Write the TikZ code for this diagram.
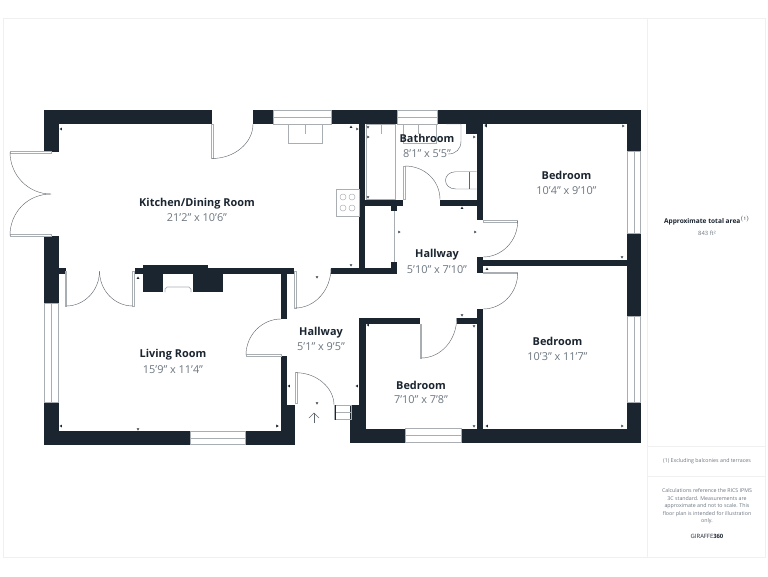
\documentclass[tikz,border=0pt]{standalone}
\usepackage{fontspec}
\setmainfont{Open Sans}
\definecolor{wallc}{HTML}{1A2530}
\definecolor{sizec}{HTML}{6C7680}
\definecolor{linec}{HTML}{A9AEB3}
\definecolor{framec}{HTML}{F0F0F0}
\tikzset{
  wall/.style={fill=wallc},
  leaf/.style={fill=white,draw=linec,line width=0.5pt},
  glass/.style={fill=white,draw=linec,line width=0.5pt},
  swing/.style={draw=wallc!70,line width=0.35pt},
  fixture/.style={draw=linec,line width=0.6pt},
  roomname/.style={font=\fontsize{9.3}{11}\selectfont\bfseries,text=wallc,inner sep=0pt,yshift=-0.85pt},
  roomsize/.style={font=\fontsize{9.3}{11}\selectfont,text=sizec,inner sep=0pt,yshift=-0.85pt},
  sidetext/.style={font=\fontsize{4.5}{6.4}\selectfont,text=sizec,inner sep=0pt,align=center},
}
\begin{document}
\begin{tikzpicture}[x=0.03cm,y=-0.03cm]
\useasboundingbox (0,0) rectangle (768,576);
\fill[white] (0,0) rectangle (768,576);

\draw[framec,line width=0.8pt] (3,18) -- (765,18) -- (765,557) -- (3,557) -- cycle;
\draw[framec,line width=0.8pt] (647,18) -- (647,557);
\draw[framec,line width=0.8pt] (647,446) -- (765,446);
\draw[framec,line width=0.8pt] (647,476) -- (765,476);

\fill[wall] (44,109.5) rectangle (212,124);
\fill[wall] (44,109.5) rectangle (58.5,152);
\fill[wall] (253,109.5) rectangle (273,124);
\fill[wall] (331,109.5) rectangle (397,124);
\fill[wall] (437,109.5) rectangle (641,124);
\fill[wall] (627,109.5) rectangle (641,151);
\fill[wall] (627,233) rectangle (641,316);
\fill[wall] (627,402) rectangle (641,443);
\fill[wall] (461,428.5) rectangle (641,443);
\fill[wall] (350,428.5) rectangle (405,443);
\fill[wall] (350,405) rectangle (365.5,443);
\fill[wall] (359,318) rectangle (365.5,405);
\fill[wall] (359,318) rectangle (420,324);
\fill[wall] (456.7,318) rectangle (483,324);
\fill[wall] (476.7,309) rectangle (483,430);
\fill[wall] (476.7,257) rectangle (483,273);
\fill[wall] (476.7,260) rectangle (627,266.3);
\fill[wall] (476.7,124) rectangle (483.3,220);
\fill[wall] (465.7,124) rectangle (477,134);
\fill[wall] (440,199.5) rectangle (477,206);
\fill[wall] (365,199.5) rectangle (402.7,206);
\fill[wall] (391,206) rectangle (397,211);
\fill[wall] (359,124) rectangle (365,270);
\fill[wall] (331,268) rectangle (397.3,274);
\fill[wall] (391,262) rectangle (397.3,274);
\fill[wall] (44,235.7) rectangle (58.5,303);
\fill[wall] (58,268.3) rectangle (66,274);
\fill[wall] (44,402) rectangle (58.5,445);
\fill[wall] (44,431) rectangle (190,445);
\fill[wall] (245,431) rectangle (295,445);
\fill[wall] (281,405) rectangle (295,445);
\fill[wall] (281,355.7) rectangle (287,405);
\fill[wall] (281,268.3) rectangle (287,319);
\fill[wall] (135,268.3) rectangle (293.5,274);
\fill[wall] (143.3,265) rectangle (208,292);
\fill[wall] (208,268.3) rectangle (222.7,292);
\fill[white] (163,274) rectangle (193,292);
\draw[fixture] (165,292) -- (165,289) -- (167,287) -- (189,287) -- (191,289) -- (191,292);

\draw[glass] (273,109.8) rectangle (331,124);
\draw[glass] (273,116.8) -- (331,116.8);
\draw[glass] (397,109.8) rectangle (437,124);
\draw[glass] (397,116.8) -- (437,116.8);
\draw[glass] (627,151) rectangle (640.7,233);
\draw[glass] (634,151) -- (634,233);
\draw[glass] (627,316) rectangle (640.7,402);
\draw[glass] (634,316) -- (634,402);
\draw[glass] (44.3,303) rectangle (58.5,402);
\draw[glass] (51.5,303) -- (51.5,402);
\draw[glass] (190,431) rectangle (245,444.7);
\draw[glass] (190,438) -- (245,438);
\draw[glass] (405,428.5) rectangle (461,442.7);
\draw[glass] (405,435.5) -- (461,435.5);

\draw[leaf] (211.5,124) rectangle (213.5,158.5);
\draw[swing] (212,158.5) .. controls (234.5,158.5) and (253,143) .. (253,124);
\draw[leaf] (10,151) rectangle (51,153);
\draw[leaf] (10,234.5) rectangle (51,236.5);
\draw[swing] (10,152) .. controls (10,175) and (28,194) .. (51,194);
\draw[swing] (10,235.5) .. controls (10,212) and (28,194) .. (51,194);
\draw[leaf] (65,271) rectangle (66.5,306);
\draw[swing] (66,306) .. controls (85,306) and (99.5,290) .. (99.5,271);
\draw[leaf] (132.5,271) rectangle (134,306);
\draw[swing] (133,306) .. controls (114,306) and (99.5,290) .. (99.5,271);
\draw[leaf] (246,354.5) rectangle (281,356);
\draw[swing] (246,355) .. controls (246,335) and (262,319) .. (281,319);
\draw[leaf] (294,271) rectangle (296,308);
\draw[swing] (295,308) .. controls (315,308) and (331,290) .. (331,268);
\draw[leaf] (295,372.7) rectangle (296.8,403.5);
\draw[swing] (296,372.7) .. controls (317,372.7) and (334,388) .. (334,405);
\draw[leaf] (420,324) rectangle (421.5,358);
\draw[swing] (421,358) .. controls (441,358) and (456.7,340) .. (456.7,318);
\draw[leaf] (483,272) rectangle (517.7,273.7);
\draw[swing] (517.7,273) .. controls (517.7,293) and (502,309) .. (483,309);
\draw[leaf] (483,220) rectangle (517.7,222.5);
\draw[swing] (517.7,221) .. controls (517.7,241) and (502,257) .. (483,257);
\draw[leaf] (403.5,166) rectangle (405.5,199.5);
\draw[swing] (405,166) .. controls (425,166) and (440,181) .. (440,199.5);

\draw[fixture] (334.5,405) rectangle (351,412);
\draw[fixture] (334.5,412) rectangle (351,419.5);
\draw[wallc,line width=0.6pt] (335,405) -- (335,419.5);
\draw[wallc!70,line width=0.4pt] (314,423) -- (314,413);
\draw[wallc!70,line width=0.4pt] (309,418) -- (314,413) -- (319,418);

\draw[fixture] (288.3,124.5) rectangle (322,143.5);
\draw[linec,line width=0.4pt] (305,124.5) -- (305,134);
\draw[fixture] (336,189) rectangle (359,216);
\foreach \x/\y in {343/197,352/197,343/208,352/208}
  \draw[linec,line width=0.4pt] (\x,\y) circle (3);
\draw[fixture] (366,124) rectangle (395,199);
\draw[linec,line width=0.4pt] (381,124) -- (381,134);
\draw[fixture] (403,124.5) rectangle (436,143.5);
\draw[linec,line width=0.4pt] (418,124.5) -- (418,134);
\draw[swing] (446,124) -- (461,124) -- (461,141) .. controls (461,149) and (456,154) .. (448,154);
\draw[swing] (476.7,171.7) -- (456,171.7) .. controls (442,171.7) and (442,189) .. (456,189) -- (476.7,189);
\draw[swing] (469,171.7) -- (469,189);
\draw[linec,line width=0.6pt] (394,211) -- (394,262);

\foreach \x/\y/\a in {61/129/180,138/278/270,351/127/270,357/129/0,368/127/90,368/137/0,368/197/90,486/126/180,474/137/0,
  462/208/270,399/232/0,475/232/0,351/265/90,317/277/90,487/269/270,61/426/180,138/429/90,277/426/0,289/386/180,
  357/386/180,277/426/0,317/403/90,368/325/180,462/315/90,474/326/90,474/426/90,487/426/180,486/125/180,623/126/0,
  622/257/90,622/426/0}
  \fill[wallc] (\x,\y) ++(\a:1.5) -- ++(\a+150:2.6) -- ++(\a+270:2.6) -- cycle;

\node[roomname] (kitchen) at (197,202.5) {Kitchen/Dining Room};
\node[roomsize] (kitchensize) at (197,217) {21'2" x 10'6"};
\node[roomname] (bathroom) at (427,137.5) {Bathroom};
\node[roomsize] (bathroomsize) at (427,152.5) {8'1" x 5'5"};
\node[roomname] (bedroomA) at (566.5,174.5) {Bedroom};
\node[roomsize] (bedroomAsize) at (566.5,189.5) {10'4" x 9'10"};
\node[roomname] (hallA) at (437,253.5) {Hallway};
\node[roomsize] (hallAsize) at (437,269) {5'10" x 7'10"};
\node[roomname] (hallB) at (321,331.5) {Hallway};
\node[roomsize] (hallBsize) at (321,346) {5'1" x 9'5"};
\node[roomname] (living) at (173,353.5) {Living Room};
\node[roomsize] (livingsize) at (173,368.5) {15'9" x 11'4"};
\node[roomname] (bedroomB) at (421,384) {Bedroom};
\node[roomsize] (bedroomBsize) at (421,398.5) {7'10" x 7'8"};
\node[roomname] (bedroomC) at (557.5,340.5) {Bedroom};
\node[roomsize] (bedroomCsize) at (557.5,355.5) {10'3" x 11'7"};

\node[sidetext,text=wallc,font=\fontsize{5.6}{7}\selectfont\bfseries] (areatitle) at (707,221) {Approximate total area$^{\mathrm{(1)}}$};
\node[sidetext,font=\fontsize{5}{6}\selectfont] (areavalue) at (707,233) {843 ft²};
\node[sidetext] (excluding) at (707,461) {(1) Excluding balconies and terraces};
\node[sidetext] (calculations) at (707,506.5) {Calculations reference the RICS IPMS\\3C standard. Measurements are\\approximate and not to scale. This\\floor plan is intended for illustration\\only.};
\node[sidetext,text=wallc,font=\fontsize{5}{6}\selectfont] (giraffe) at (707,536.7) {GIRAFFE\textbf{360}};
\end{tikzpicture}
\end{document}
